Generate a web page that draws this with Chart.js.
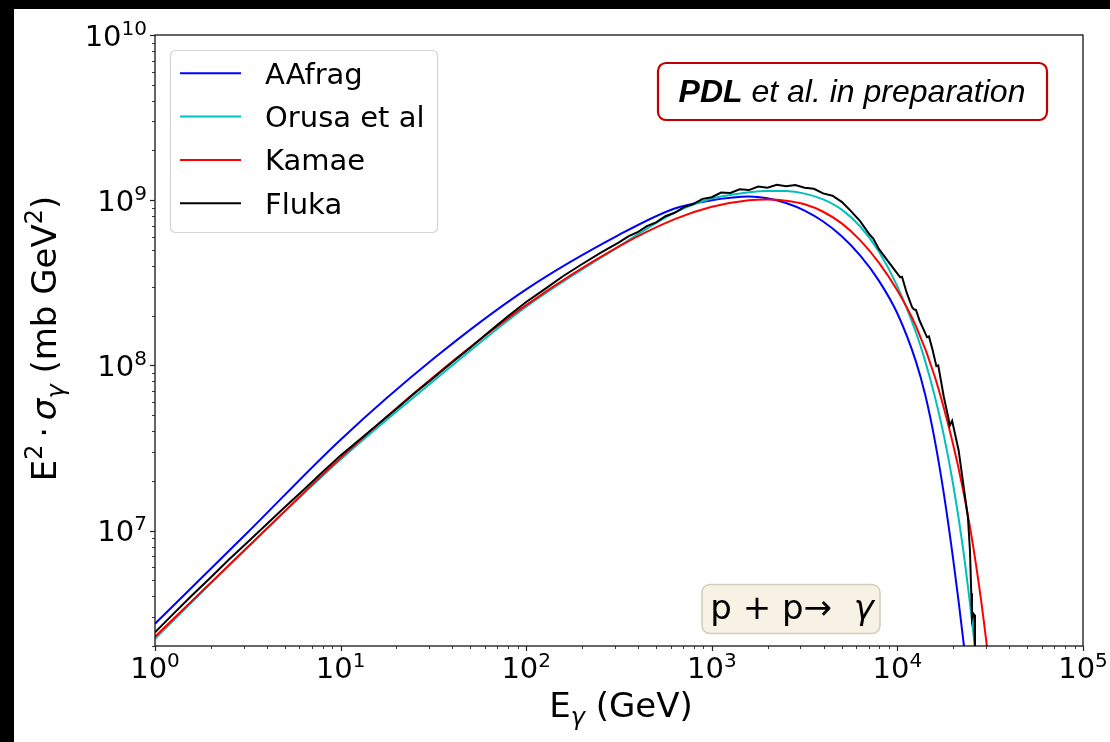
<!DOCTYPE html>
<html>
<head>
<meta charset="utf-8">
<script src="https://cdn.jsdelivr.net/npm/chart.js@4.4.1/dist/chart.umd.min.js"></script>
<style>
  html, body { margin: 0; padding: 0; background: #000; }
  #chart { display: block; }
</style>
</head>
<body>
<canvas id="chart" width="1110" height="742"></canvas>
<script>
// E_gamma (GeV) and E^2 * sigma (mb GeV^2)
const aafragEnergy = [1, 3.162, 10, 31.62, 100, 316.2, 631, 1000, 1259, 1585, 1995, 2512, 3162, 3981, 5012, 6310, 7943, 10000, 12590, 14130, 15850, 17780, 19950, 21380, 22910, 23990];
const aafragValue  = [2.73e6, 9.77e6, 3.55e7, 1.096e8, 2.884e8, 6.166e8, 8.913e8, 1.0e9, 1.035e9, 1.052e9, 1.028e9, 9.62e8, 8.65e8, 7.43e8, 6.05e8, 4.62e8, 3.26e8, 2.06e8, 1.054e8, 6.61e7, 3.59e7, 1.679e7, 6.79e6, 3.70e6, 1.945e6, 1.245e6];

const orusaEnergy = [1, 3.162, 10, 31.62, 100, 316.2, 631, 1000, 1585, 1995, 2512, 3162, 3981, 5012, 6310, 7943, 10000, 12590, 14130, 15850, 17780, 19950, 22390, 24550, 25700, 26920];
const orusaValue  = [2.213e6, 7.943e6, 2.692e7, 8.035e7, 2.265e8, 5.248e8, 8.414e8, 1.023e9, 1.117e9, 1.138e9, 1.135e9, 1.096e9, 1.012e9, 8.77e8, 6.93e8, 4.89e8, 3.01e8, 1.581e8, 1.057e8, 6.59e7, 3.78e7, 1.914e7, 8.32e6, 3.70e6, 2.355e6, 1.466e6];

const kamaeEnergy = [1, 3.162, 10, 31.62, 100, 316.2, 631, 1000, 1585, 1995, 2512, 3162, 3981, 5012, 6310, 7943, 10000, 12590, 15850, 19950, 22390, 25120, 28180, 30200, 31620];
const kamaeValue  = [2.275e6, 7.943e6, 2.754e7, 8.511e7, 2.317e8, 5.248e8, 7.674e8, 9.12e8, 1.0e9, 1.009e9, 9.93e8, 9.44e8, 8.51e8, 7.24e8, 5.71e8, 4.19e8, 2.84e8, 1.726e8, 8.65e7, 3.33e7, 1.849e7, 9.16e6, 3.86e6, 2.09e6, 1.343e6];

const flukaEnergy = [1, 1.259, 1.585, 1.995, 2.512, 3.162, 3.981, 5.012, 6.310, 7.943,
  10, 12.59, 15.85, 19.95, 25.12, 31.62, 39.81, 50.12, 63.10, 79.43,
  100, 125.9, 158.5, 199.5, 251.2, 316.2, 354.8, 398.1, 446.7, 501.2,
  562.3, 631.0, 707.9, 794.3, 891.3, 1000, 1122, 1259, 1413, 1585,
  1778, 1995, 2239, 2512, 2818, 3162, 3548, 3981, 4467, 5012,
  5623, 6310, 7079, 7413, 7943, 8913, 10000, 10350, 10590, 11220,
  12020, 12300, 12590, 13180, 14450, 14790, 15490, 16220, 16600, 17780,
  18840, 19140, 19720, 21380, 22910, 23990, 24600, 25000, 25230, 25590,
  25940, 26180, 26360];
const flukaValue = [2.42e6, 3.14e6, 4.06e6, 5.20e6, 6.70e6, 8.53e6, 1.087e7, 1.387e7, 1.758e7, 2.249e7,
  2.851e7, 3.532e7, 4.385e7, 5.445e7, 6.792e7, 8.395e7, 1.042e8, 1.282e8, 1.596e8, 1.977e8,
  2.421e8, 2.897e8, 3.475e8, 4.093e8, 4.797e8, 5.559e8, 6.039e8, 6.397e8, 6.966e8, 7.345e8,
  7.998e8, 8.395e8, 9.078e8, 9.462e8, 1.019e9, 1.042e9, 1.112e9, 1.107e9, 1.164e9, 1.151e9,
  1.211e9, 1.191e9, 1.239e9, 1.213e9, 1.236e9, 1.189e9, 1.172e9, 1.099e9, 1.064e9, 9.77e8,
  8.59e8, 7.447e8, 6.194e8, 5.861e8, 5.07e8, 4.266e8, 3.597e8, 3.412e8, 3.443e8, 2.754e8,
  2.239e8, 2.178e8, 2.168e8, 1.862e8, 1.479e8, 1.496e8, 1.233e8, 9.886e7, 1.0e8, 6.457e7,
  4.786e7, 4.315e7, 4.624e7, 3.055e7, 1.738e7, 1.199e7, 7.568e6, 4.169e6, 2.951e6, 3.162e6,
  3.09e6, 1.995e6, 1.585e6];

const seriesLabels = ['AAfrag', 'Orusa et al', 'Kamae', 'Fluka'];
const seriesColors = ['#0000ff', '#00bfbf', '#ff0000', '#000000'];

// tick labels are 10^n
const xTickExponents = [0, 1, 2, 3, 4, 5];
const yTickExponents = [7, 8, 9, 10];

function toPoints(xs, ys) {
  return xs.map((x, i) => ({ x: x, y: ys[i] }));
}

const SANS = '"DejaVu Sans", sans-serif';
const ARIAL = '"Liberation Sans", Arial, sans-serif';

// draw a run of text pieces (for super/subscripts)
function drawParts(ctx, parts, x, y, align) {
  let total = 0;
  parts.forEach(p => {
    ctx.font = p.font;
    p.w = ctx.measureText(p.t).width;
    total += p.w;
  });
  let cx = x;
  if (align === 'center') cx = x - total / 2;
  if (align === 'right') cx = x - total;
  ctx.textAlign = 'left';
  ctx.textBaseline = 'alphabetic';
  parts.forEach(p => {
    ctx.font = p.font;
    ctx.fillText(p.t, cx, y + (p.dy || 0));
    cx += p.w;
  });
  return total;
}

function powParts(exp) {
  return [
    { t: '10', font: '29px ' + SANS },
    { t: String(exp), font: '20px ' + SANS, dy: -11 }
  ];
}

function roundRect(ctx, x, y, w, h, r) {
  ctx.beginPath();
  ctx.moveTo(x + r, y);
  ctx.lineTo(x + w - r, y);
  ctx.arcTo(x + w, y, x + w, y + r, r);
  ctx.lineTo(x + w, y + h - r);
  ctx.arcTo(x + w, y + h, x + w - r, y + h, r);
  ctx.lineTo(x + r, y + h);
  ctx.arcTo(x, y + h, x, y + h - r, r);
  ctx.lineTo(x, y + r);
  ctx.arcTo(x, y, x + r, y, r);
  ctx.closePath();
}

const backgroundPlugin = {
  id: 'background',
  beforeDraw(chart) {
    const ctx = chart.ctx;
    ctx.save();
    ctx.fillStyle = '#ffffff';
    ctx.fillRect(0, 0, chart.width, chart.height);
    ctx.fillStyle = '#000000';
    ctx.fillRect(0, 0, chart.width, 9);
    ctx.fillRect(0, 0, 14, chart.height);
    ctx.restore();
  }
};

const decorPlugin = {
  id: 'decor',
  afterDraw(chart) {
    const ctx = chart.ctx;
    const a = chart.chartArea;
    const xs = chart.scales.x;
    const ys = chart.scales.y;
    ctx.save();

    // frame
    ctx.strokeStyle = '#000';
    ctx.lineWidth = 1.2;
    ctx.strokeRect(a.left, a.top, a.right - a.left, a.bottom - a.top);

    // ticks
    ctx.strokeStyle = '#222';
    for (let n = 0; n <= 5; n++) {
      for (let k = 1; k <= 9; k++) {
        const v = k * Math.pow(10, n);
        if (v < xs.min || v > xs.max) continue;
        const px = Math.round(xs.getPixelForValue(v)) + 0.5;
        const len = k === 1 ? 5 : 3;
        ctx.lineWidth = k === 1 ? 1.2 : 0.9;
        ctx.beginPath();
        ctx.moveTo(px, a.bottom);
        ctx.lineTo(px, a.bottom + len);
        ctx.stroke();
      }
    }
    for (let n = 6; n <= 10; n++) {
      for (let k = 1; k <= 9; k++) {
        const v = k * Math.pow(10, n);
        if (v < ys.min || v > ys.max) continue;
        const py = Math.round(ys.getPixelForValue(v)) + 0.5;
        const len = k === 1 ? 5 : 3;
        ctx.lineWidth = k === 1 ? 1.2 : 0.9;
        ctx.beginPath();
        ctx.moveTo(a.left, py);
        ctx.lineTo(a.left - len, py);
        ctx.stroke();
      }
    }

    // tick labels
    ctx.fillStyle = '#000';
    xTickExponents.forEach(e => {
      const px = xs.getPixelForValue(Math.pow(10, e));
      drawParts(ctx, powParts(e), px, a.bottom + 32, 'center');
    });
    yTickExponents.forEach(e => {
      const py = ys.getPixelForValue(Math.pow(10, e));
      drawParts(ctx, powParts(e), a.left - 8, py + 10.5, 'right');
    });

    // x axis title
    drawParts(ctx, [
      { t: 'E', font: '34px ' + SANS },
      { t: 'γ', font: 'italic 24px ' + SANS, dy: 8 },
      { t: ' (GeV)', font: '34px ' + SANS }
    ], (a.left + a.right) / 2 + 2, 717, 'center');

    // y axis title
    ctx.save();
    ctx.translate(56, (a.top + a.bottom) / 2 - 2);
    ctx.rotate(-Math.PI / 2);
    drawParts(ctx, [
      { t: 'E', font: '34px ' + SANS },
      { t: '2', font: '24px ' + SANS, dy: -14 },
      { t: '\u2009\u00b7\u2009', font: '34px ' + SANS },
      { t: 'σ', font: 'italic 34px ' + SANS },
      { t: 'γ', font: 'italic 24px ' + SANS, dy: 8 },
      { t: ' (mb GeV', font: '34px ' + SANS },
      { t: '2', font: '24px ' + SANS, dy: -14 },
      { t: ')', font: '34px ' + SANS }
    ], 0, 0, 'center');
    ctx.restore();

    // legend
    ctx.fillStyle = 'rgba(255,255,255,0.85)';
    roundRect(ctx, 170.5, 50.5, 267, 182, 5);
    ctx.fill();
    ctx.strokeStyle = '#d6d6d6';
    ctx.lineWidth = 1.2;
    ctx.stroke();
    seriesLabels.forEach((lab, i) => {
      const ly = 73.3 + i * 43.3;
      ctx.strokeStyle = seriesColors[i];
      ctx.lineWidth = 2;
      ctx.beginPath();
      ctx.moveTo(180, ly);
      ctx.lineTo(241, ly);
      ctx.stroke();
      ctx.fillStyle = '#000';
      ctx.font = '29px ' + SANS;
      ctx.textAlign = 'left';
      ctx.textBaseline = 'alphabetic';
      ctx.fillText(lab, 265, ly + 10.5);
    });

    // "PDL et al. in preparation" box
    ctx.fillStyle = '#ffffff';
    roundRect(ctx, 658, 63, 389, 57, 8);
    ctx.fill();
    ctx.strokeStyle = '#c00000';
    ctx.lineWidth = 2.2;
    ctx.stroke();
    ctx.fillStyle = '#000';
    drawParts(ctx, [
      { t: 'PDL', font: 'italic bold 32px ' + ARIAL },
      { t: ' et al. in preparation', font: 'italic 32px ' + ARIAL }
    ], 852, 102, 'center');

    // reaction box
    ctx.fillStyle = '#f8f2e4';
    roundRect(ctx, 702, 584.5, 178, 49, 8);
    ctx.fill();
    ctx.strokeStyle = '#d2ccbf';
    ctx.lineWidth = 1.5;
    ctx.stroke();
    ctx.fillStyle = '#000';
    drawParts(ctx, [
      { t: 'p + p', font: '34px ' + SANS },
      { t: '\u2192', font: '34px ' + SANS },
      { t: '  ', font: '34px ' + SANS },
      { t: 'γ', font: 'italic 34px ' + SANS }
    ], 792, 619, 'center');

    ctx.restore();
  }
};

function lineSet(i, xs, vs, order, smooth) {
  return {
    label: seriesLabels[i],
    data: toPoints(xs, vs),
    borderColor: seriesColors[i],
    backgroundColor: seriesColors[i],
    borderWidth: 2,
    pointRadius: 0,
    fill: false,
    order: order,
    cubicInterpolationMode: smooth ? 'monotone' : 'default',
    tension: 0
  };
}

const ctx = document.getElementById('chart').getContext('2d');
new Chart(ctx, {
  type: 'line',
  data: {
    datasets: [
      lineSet(0, aafragEnergy, aafragValue, 4, true),
      lineSet(1, orusaEnergy, orusaValue, 3, true),
      lineSet(2, kamaeEnergy, kamaeValue, 2, true),
      lineSet(3, flukaEnergy, flukaValue, 1, false)
    ]
  },
  options: {
    responsive: false,
    animation: false,
    devicePixelRatio: 1,
    layout: { padding: { top: 35, right: 27, left: 0, bottom: 0 } },
    plugins: {
      legend: { display: false },
      tooltip: { enabled: false }
    },
    scales: {
      x: {
        type: 'logarithmic',
        min: 1,
        max: 1e5,
        grid: { display: false },
        border: { display: false },
        ticks: { display: false },
        afterFit(scale) { scale.height = 96; }
      },
      y: {
        type: 'logarithmic',
        min: 2e6,
        max: 1e10,
        grid: { display: false },
        border: { display: false },
        ticks: { display: false },
        afterFit(scale) { scale.width = 155; }
      }
    }
  },
  plugins: [backgroundPlugin, decorPlugin]
});
</script>
</body>
</html>
